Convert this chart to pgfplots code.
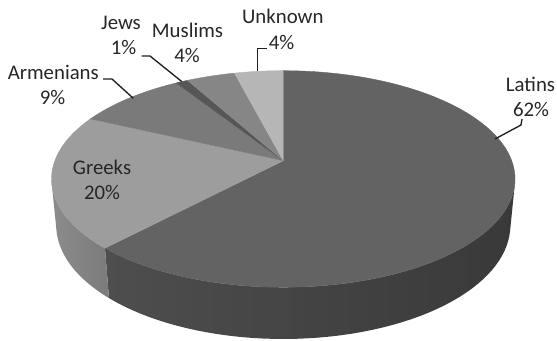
\documentclass[border=0pt]{standalone}
\usepackage{pgfplots}
\pgfplotsset{compat=1.18}
\usepackage{pgfplotstable}
\usepackage{fontspec}
\setmainfont{Carlito}
\definecolor{cLat}{HTML}{636363}
\definecolor{cGre}{HTML}{9D9D9D}
\definecolor{cArm}{HTML}{7A7A7A}
\definecolor{cJew}{HTML}{565656}
\definecolor{cMus}{HTML}{868686}
\definecolor{cUnk}{HTML}{B6B6B6}
\definecolor{sLatL}{HTML}{4E4E4E}
\definecolor{sLatR}{HTML}{393939}
\definecolor{sGreL}{HTML}{8C8C8C}
\definecolor{sGreR}{HTML}{7B7B7B}
\definecolor{txt}{HTML}{262626}
\definecolor{lead}{HTML}{1E1E1E}

\tikzset{lbl/.style={anchor=base, text=txt, inner sep=0pt, font=\fontsize{15.6}{18}\selectfont}}

\pgfplotstableread{
group value
Latins 62
Greeks 20
Armenians 9
Jews 1
Muslims 4
Unknown 4
}\piedata

\newcommand\getv[2]{\pgfplotstablegetelem{#1}{value}\of\piedata\pgfmathsetmacro#2{\pgfplotsretval}}

\newcommand\pieWedge[3]{%
  \pgfmathsetmacro\ws{(#2-#1)/70}%
  \pgfmathsetmacro\wlo{#1-\ws}%
  \pgfmathsetmacro\wth{#1-0.5*\ws}%
  \edef\temp{\noexpand\addplot[fill=#3, draw=#3, line width=0.3pt, domain=\wlo:#2, samples=72] ({pieX(x>\wth,x,0)},{pieY(x>\wth,x,0)});}%
  \temp}

\newcommand\pieSide[4]{%
  \edef\temp{\noexpand\addplot[left color=#3, right color=#4, draw=none, domain=0:2.2, samples=111]
   ({pieX(1,#1+(#2-#1)*max(0,min(x,1,2.1-x)),-0.2295*max(0,min(1,(x-1)*10,(2.2-x)*10)))},
    {pieY(1,#1+(#2-#1)*max(0,min(x,1,2.1-x)),-0.2295*max(0,min(1,(x-1)*10,(2.2-x)*10)))});}%
  \temp}

\begin{document}
\begin{tikzpicture}
\getv{0}\vA \getv{1}\vB \getv{2}\vC \getv{3}\vD \getv{4}\vE \getv{5}\vF
\pgfmathsetmacro\cA{3.6*\vA}
\pgfmathsetmacro\cB{\cA+3.6*\vB}
\pgfmathsetmacro\cC{\cB+3.6*\vC}
\pgfmathsetmacro\cD{\cC+3.6*\vD}
\pgfmathsetmacro\cE{\cD+3.6*\vE}
\pgfmathsetmacro\cF{\cE+3.6*\vF}
\begin{axis}[
  hide axis, scale only axis,
  width=417.75pt, height=255.75pt,
  xmin=0, xmax=557, ymin=0, ymax=341, y dir=reverse,
  clip=false,
  declare function={
    pieX(\rad,\ang,\zz)=283.3+1200*\rad*sin(\ang)/(5.253+\rad*cos(\ang)*0.8876-\zz*0.4606);
    pieY(\rad,\ang,\zz)=160.7-1200*(\rad*cos(\ang)*0.4606+\zz*0.8876)/(5.253+\rad*cos(\ang)*0.8876-\zz*0.4606);
  },
]
\coordinate (bl) at (rel axis cs:0,0);
\coordinate (tr) at (rel axis cs:1,1);
% sides
\pieSide{102.38}{\cA}{sLatL}{sLatR}
\pieSide{\cA}{257.62}{sGreL}{sGreR}
% tops
\pieWedge{0}{\cA}{cLat}
\pieWedge{\cA}{\cB}{cGre}
\pieWedge{\cB}{\cC}{cArm}
\pieWedge{\cC}{\cD}{cJew}
\pieWedge{\cD}{\cE}{cMus}
\pieWedge{\cE}{\cF}{cUnk}
% leader lines
\addplot[lead, line width=1pt] coordinates {(495,139) (521,125) (522,119)};
\addplot[lead, line width=1pt] coordinates {(103,79) (112,79) (133.3,98.3)};
\addplot[lead, line width=1pt] coordinates {(141.7,56) (150,56) (181.8,81.6)};
\addplot[lead, line width=1pt] coordinates {(266.7,48.3) (257.3,48.3) (257.3,71.5)};
% labels
\node[lbl] at (axis cs:530.5,92) {Latins};
\node[lbl] at (axis cs:531,117) {62\%};
\node[lbl] at (axis cs:102,175) {Greeks};
\node[lbl] at (axis cs:102,200) {20\%};
\node[lbl] at (axis cs:53.3,80) {Armenians};
\node[lbl] at (axis cs:52.5,105) {9\%};
\node[lbl] at (axis cs:121,30) {Jews};
\node[lbl] at (axis cs:123.5,55) {1\%};
\node[lbl] at (axis cs:187.5,37.5) {Muslims};
\node[lbl] at (axis cs:187,63) {4\%};
\node[lbl] at (axis cs:282.8,24) {Unknown};
\node[lbl] at (axis cs:281.5,49.3) {4\%};
\end{axis}
\pgfresetboundingbox
\path (bl) rectangle (tr);
\end{tikzpicture}
\end{document}
